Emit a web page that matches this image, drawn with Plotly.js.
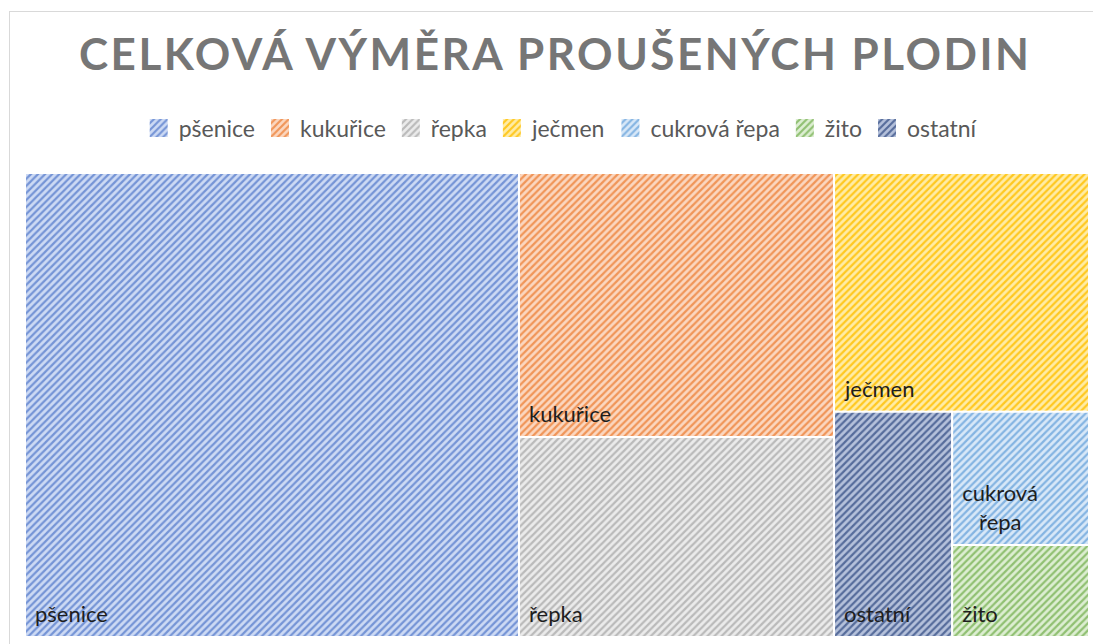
<!DOCTYPE html>
<html>
<head>
<meta charset="utf-8">
<script src="https://cdn.plot.ly/plotly-3.0.1.min.js"></script>
<style>
  html, body { margin: 0; padding: 0; background: #ffffff; }
  #wrap { position: relative; width: 1093px; height: 644px; overflow: hidden; }
  #chart { position: absolute; left: 0; top: 0; width: 1093px; height: 644px; }
  #frame { position: absolute; left: 9px; top: 11px; width: 1200px; height: 800px;
           border-top: 1px solid #d9d9d9; border-left: 1px solid #d9d9d9; pointer-events: none; }
  .gtitle { letter-spacing: 2.5px; }
</style>
</head>
<body>
<div id="wrap">
  <div id="chart"></div>
  <div id="frame"></div>
</div>
<script>
// Data (areas, relative units)
const categories = ["pšenice", "kukuřice", "řepka", "ječmen", "cukrová řepa", "žito", "ostatní"];
const values     = [229.2, 83.2, 63.0, 60.9, 18.2, 12.6, 26.6];
const tileText   = ["pšenice", "kukuřice", "řepka", "ječmen", "cukrová<br>\u00a0\u00a0\u00a0řepa", "žito", "ostatní"];
const parents    = ["", "", "", "", "", "", ""];

// Styles
const lineColors = ["#7594d6", "#f09558", "#bababa", "#ffc820", "#84b4e2", "#90c072", "#566c9b"];
const bgColors   = ["#cddaf4", "#fbd7c0", "#ebebeb", "#ffeca6", "#d8e8f8", "#ddeed2", "#b5c1db"];

const FONT = "Lato, 'Open Sans', sans-serif";

const treemap = {
  type: "treemap",
  labels: categories,
  parents: parents,
  values: values,
  text: tileText,
  texttemplate: "%{text}",
  textposition: "bottom left",
  branchvalues: "total",
  sort: true,
  tiling: { packing: "squarify", squarifyratio: 1, pad: 0 },
  pathbar: { visible: false },
  marker: {
    colors: bgColors,
    line: { color: "#ffffff", width: 2 },
    pattern: { shape: "/", fgcolor: lineColors, bgcolor: bgColors, size: 5, solidity: 0.45 },
    pad: { t: 0, l: 0, r: 0, b: 0 }
  },
  insidetextfont: { family: FONT, size: 22, color: "#1e1e1e" },
  hoverinfo: "label+value",
  domain: { x: [0, 1], y: [0, 1] },
  showlegend: false
};

// Legend entries built from the same category list
const legendTraces = categories.map((c, i) => ({
  type: "bar",
  name: c,
  x: [c],
  y: [0],
  xaxis: "x",
  yaxis: "y",
  marker: {
    color: bgColors[i],
    line: { width: 0 },
    pattern: { shape: "/", fgcolor: lineColors[i], bgcolor: bgColors[i], size: 4, solidity: 0.45 }
  },
  hoverinfo: "skip",
  showlegend: true
}));

const layout = {
  width: 1093,
  height: 644,
  paper_bgcolor: "#ffffff",
  plot_bgcolor: "rgba(0,0,0,0)",
  margin: { l: 25, r: 4, t: 173, b: 7 },
  title: {
    text: "<b>CELKOVÁ VÝMĚRA PROUŠENÝCH PLODIN</b>",
    font: { family: FONT, size: 44, color: "#767676" },
    x: 0.508, xanchor: "center", xref: "container",
    y: 1 - 55 / 644, yanchor: "middle", yref: "container"
  },
  showlegend: true,
  legend: {
    orientation: "h",
    x: 0.513, xanchor: "center", xref: "container",
    y: 1 - 128 / 644, yanchor: "middle", yref: "container",
    font: { family: FONT, size: 23, color: "#595959" },
    itemwidth: 30,
    traceorder: "normal",
    bgcolor: "rgba(0,0,0,0)"
  },
  xaxis: { visible: false, fixedrange: true },
  yaxis: { visible: false, fixedrange: true, range: [0, 1] }
};

Plotly.newPlot("chart", [...legendTraces, treemap], layout, { displayModeBar: false, staticPlot: true })
  .then(gd => {
    // Nudge tile labels inward, as in the reference (labels sit ~10px from the tile edges)
    gd.querySelectorAll(".treemaplayer text.slicetext").forEach(t => {
      const tr = t.getAttribute("transform") || "";
      t.setAttribute("transform", "translate(7,-7) " + tr);
    });
    // Larger legend swatches, like the reference
    gd.querySelectorAll(".legend .legendpoints path").forEach(p => {
      const tr = p.getAttribute("transform") || "";
      p.setAttribute("transform", tr + " scale(1.5)");
    });
  });
</script>
</body>
</html>
